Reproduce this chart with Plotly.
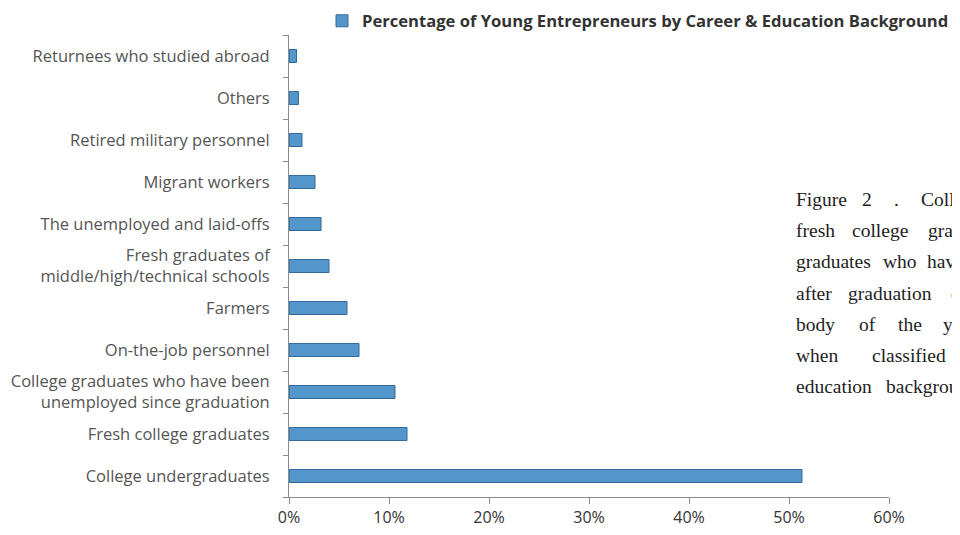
import plotly.graph_objects as go

# ---- data (bottom -> top) ----
categories = [
    "College undergraduates",
    "Fresh college graduates",
    "College graduates who have been<br>unemployed since graduation",
    "On-the-job personnel",
    "Farmers",
    "Fresh graduates of<br>middle/high/technical schools",
    "The unemployed and laid-offs",
    "Migrant workers",
    "Retired military personnel",
    "Others",
    "Returnees who studied abroad",
]
percentages = [51.3, 11.8, 10.6, 7.0, 5.8, 4.0, 3.2, 2.6, 1.3, 0.95, 0.75]
series_name = "Percentage of Young Entrepreneurs by Career & Education Background"
x_tick_values = [0, 0.1, 0.2, 0.3, 0.4, 0.5, 0.6]
x_tick_labels = ["0%", "10%", "20%", "30%", "40%", "50%", "60%"]

caption_lines = [
    ["Figure", "2", ".", "College"],
    ["fresh", "college", "graduates"],
    ["graduates", "who", "have"],
    ["after", "graduation", "constitute"],
    ["body", "of", "the", "young"],
    ["when", "classified", "by"],
    ["education", "background."],
]

# ---- layout constants (screen pixels; page body has an 8px margin) ----
OFF = 8
W, H = 960 - OFF, 535 - 2 * OFF
PL, PR, PT, PB = 289 - OFF, 889 - OFF, 35 - OFF, 497 - OFF
word_x = [
    [794, 860, 892, 919],
    [794, 850, 926],
    [794, 881, 925],
    [794, 846, 949],
    [794, 857, 896, 941],
    [794, 870, 975],
    [794, 884],
]
line_y = [200, 231, 262, 293, 324, 355, 386]

def px_to_paper_x(px):
    return (px - OFF - PL) / (PR - PL)

def px_to_paper_y(py):
    return (PB - (py - OFF)) / (PB - PT)

fig = go.Figure()
fig.add_trace(go.Bar(
    y=categories,
    x=[v / 100 for v in percentages],
    orientation="h",
    name=series_name,
    width=0.31,
    marker=dict(color="#5396cc", line=dict(color="#356a98", width=1)),
    showlegend=True,
))

annotations = []
for words, xs, yy in zip(caption_lines, word_x, line_y):
    for w, xx in zip(words, xs):
        annotations.append(dict(
            text=w, xref="paper", yref="paper",
            x=px_to_paper_x(xx), y=px_to_paper_y(yy),
            xanchor="left", yanchor="middle", showarrow=False,
            font=dict(family="Liberation Serif", size=19.5, color="#1e1e1e"),
        ))

fig.update_layout(
    width=W, height=H,
    margin=dict(l=PL, r=W - PR, t=PT, b=H - PB, pad=0, autoexpand=False),
    paper_bgcolor="white", plot_bgcolor="white",
    font=dict(family="Open Sans", color="#444444"),
    showlegend=True,
    legend=dict(
        orientation="h", x=px_to_paper_x(322), y=px_to_paper_y(21),
        xanchor="left", yanchor="middle",
        font=dict(family="Open Sans", size=16.6, color="#333333", weight="bold"),
        bgcolor="rgba(0,0,0,0)",
    ),
    xaxis=dict(
        range=[0, 0.6], tickvals=x_tick_values, ticktext=x_tick_labels,
        showgrid=False, zeroline=False, showline=True, linecolor="#8a8a8a", linewidth=1,
        ticks="outside", ticklen=6, tickcolor="#8a8a8a",
        tickfont=dict(family="Open Sans", size=16, color="#333333"),
        fixedrange=True,
    ),
    yaxis=dict(
        type="category", categoryorder="array", categoryarray=categories,
        showgrid=False, zeroline=False, showline=True, linecolor="#8a8a8a", linewidth=1,
        ticks="outside", ticklen=5, tickcolor="#8a8a8a", tickson="boundaries",
        tickfont=dict(family="Open Sans", size=16.5, color="#555555"),
        ticklabelstandoff=15,
        fixedrange=True,
    ),
    annotations=annotations,
)

fig.write_html("out.html")
